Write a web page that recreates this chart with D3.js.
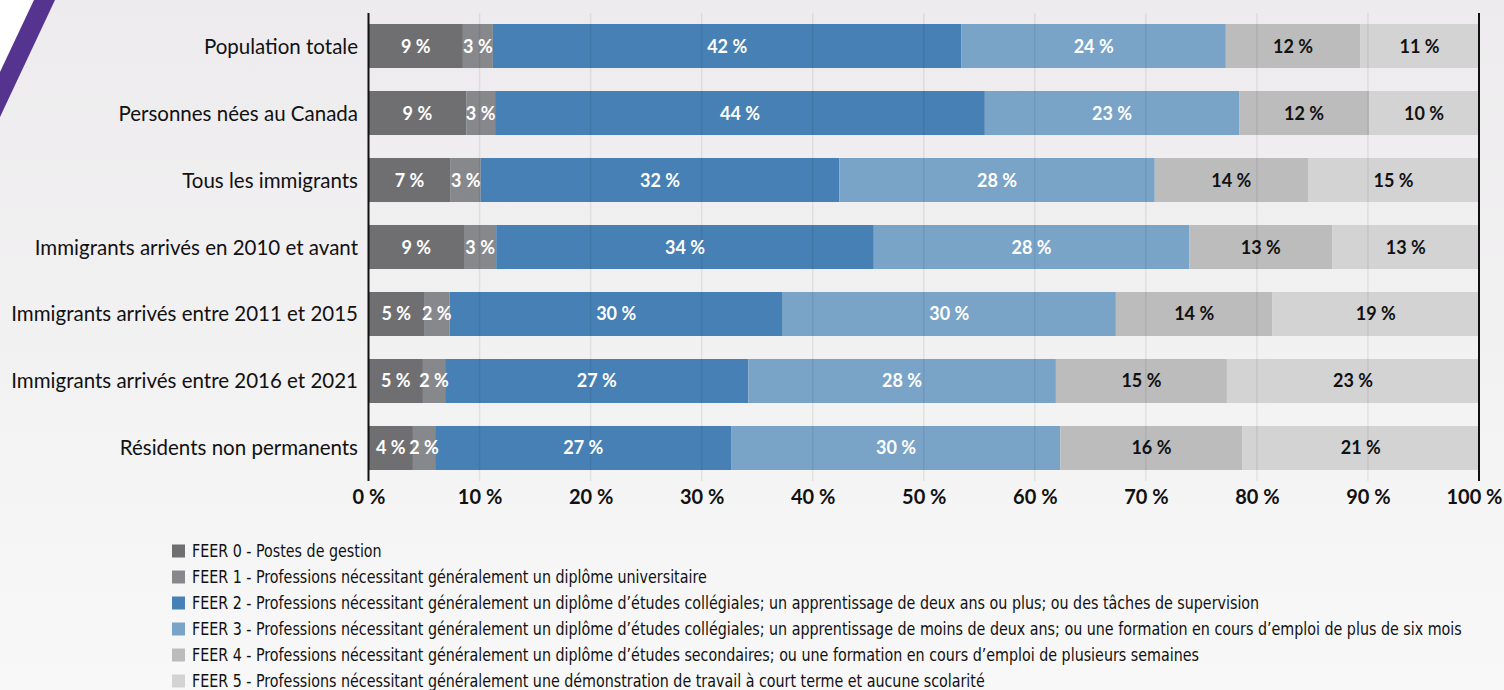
<!DOCTYPE html>
<html lang="fr">
<head>
<meta charset="utf-8">
<script src="https://cdn.jsdelivr.net/npm/d3@7"></script>
<style>
  html, body { margin: 0; padding: 0; background: #f3f2f3; }
  svg { display: block; }
</style>
</head>
<body>
<svg id="chart" width="1504" height="690"></svg>
<script>
// Groupes de population (de haut en bas)
const categories = [
  "Population totale",
  "Personnes nées au Canada",
  "Tous les immigrants",
  "Immigrants arrivés en 2010 et avant",
  "Immigrants arrivés entre 2011 et 2015",
  "Immigrants arrivés entre 2016 et 2021",
  "Résidents non permanents"
];

// Répartition (%) selon la catégorie FEER
const feer0 = [8.5, 8.8, 7.4, 8.6, 5.0, 4.9, 4.0];
const feer1 = [2.7, 2.6, 2.7, 2.9, 2.3, 2.0, 2.0];
const feer2 = [42.2, 44.1, 32.3, 34.0, 30.0, 27.3, 26.7];
const feer3 = [23.8, 22.9, 28.4, 28.4, 30.0, 27.7, 29.6];
const feer4 = [12.1, 11.7, 13.8, 12.9, 14.1, 15.4, 16.4];
const feer5 = [10.7, 9.9, 15.4, 13.2, 18.6, 22.7, 21.3];

const seriesNames = [
  "FEER 0 - Postes de gestion",
  "FEER 1 - Professions nécessitant généralement un diplôme universitaire",
  "FEER 2 - Professions nécessitant généralement un diplôme d’études collégiales; un apprentissage de deux ans ou plus; ou des tâches de supervision",
  "FEER 3 - Professions nécessitant généralement un diplôme d’études collégiales; un apprentissage de moins de deux ans; ou une formation en cours d’emploi de plus de six mois",
  "FEER 4 - Professions nécessitant généralement un diplôme d’études secondaires; ou une formation en cours d’emploi de plusieurs semaines",
  "FEER 5 - Professions nécessitant généralement une démonstration de travail à court terme et aucune scolarité"
];

const tickValues = [0, 10, 20, 30, 40, 50, 60, 70, 80, 90, 100];

const colors = ["#6f6f71", "#87888b", "#4680b4", "#7aa3c8", "#bcbcbc", "#d3d3d3"];
const labelColors = ["#ffffff", "#ffffff", "#ffffff", "#ffffff", "#111111", "#111111"];

const seriesValues = [feer0, feer1, feer2, feer3, feer4, feer5];
const keys = ["f0", "f1", "f2", "f3", "f4", "f5"];
const rows = categories.map((c, i) => {
  const r = { cat: c };
  keys.forEach((k, j) => { r[k] = seriesValues[j][i]; });
  return r;
});

const svg = d3.select("#chart");
const W = 1504, H = 690;

// Fond dégradé
const defs = svg.append("defs");
const grad = defs.append("linearGradient").attr("id", "bg").attr("x1", 0).attr("y1", 0).attr("x2", 0).attr("y2", 1);
grad.append("stop").attr("offset", "0%").attr("stop-color", "#edebed");
grad.append("stop").attr("offset", "100%").attr("stop-color", "#f8f8f8");
svg.append("rect").attr("width", W).attr("height", H).attr("fill", "url(#bg)");

// Bande décorative violette en haut à gauche
svg.append("polygon").attr("points", "0,0 34,0 0,72").attr("fill", "#ffffff");
svg.append("polygon").attr("points", "34,0 55,0 0,117 0,72").attr("fill", "#55348f");

const x = d3.scaleLinear().domain([0, 100]).range([368.5, 1479]);
const y = d3.scaleBand().domain(categories).range([12.5, 481.5]).paddingInner(0.343).paddingOuter(0.1716);

const stacked = d3.stack().keys(keys)(rows);

const layers = svg.append("g").selectAll("g.layer")
  .data(stacked).join("g")
  .attr("class", "layer")
  .attr("fill", (d, i) => colors[i]);

layers.selectAll("rect")
  .data(d => d.map(p => ({ p, cat: p.data.cat })))
  .join("rect")
  .attr("x", d => x(d.p[0]))
  .attr("y", d => y(d.cat))
  .attr("width", d => x(d.p[1]) - x(d.p[0]))
  .attr("height", y.bandwidth());

// Quadrillage vertical (par-dessus les barres, très léger)
svg.append("g").selectAll("line")
  .data(tickValues.slice(1, -1)).join("line")
  .attr("x1", d => x(d)).attr("x2", d => x(d))
  .attr("y1", 13).attr("y2", 481)
  .attr("stroke", "rgba(0,0,0,0.07)")
  .attr("stroke-width", 1.5);

// Étiquettes de valeurs
stacked.forEach((layer, i) => {
  svg.append("g").selectAll("text")
    .data(layer).join("text")
    .attr("x", d => (x(d[0]) + x(d[1])) / 2)
    .attr("y", d => y(d.data.cat) + y.bandwidth() / 2 + 6.5)
    .attr("text-anchor", "middle")
    .attr("font-family", "Lato, 'Open Sans', sans-serif")
    .attr("font-weight", 700)
    .attr("font-size", 18)
    .attr("fill", labelColors[i])
    .text(d => Math.round(d[1] - d[0]) + " %");
});

// Axes verticaux
svg.append("line").attr("x1", x(0)).attr("x2", x(0)).attr("y1", 13).attr("y2", 481)
  .attr("stroke", "#111").attr("stroke-width", 2);
svg.append("line").attr("x1", x(100)).attr("x2", x(100)).attr("y1", 13).attr("y2", 481)
  .attr("stroke", "#111").attr("stroke-width", 2);

// Catégories
svg.append("g").selectAll("text")
  .data(categories).join("text")
  .attr("x", 358)
  .attr("y", d => y(d) + y.bandwidth() / 2 + 7.5)
  .attr("text-anchor", "end")
  .attr("font-family", "Lato, 'Open Sans', sans-serif")
  .attr("font-size", 20.5)
  .attr("fill", "#111")
  .text(d => d);

// Axe des x
const xAxis = d3.axisBottom(x).tickValues(tickValues).tickSize(0).tickFormat(d => d + " %");
const ax = svg.append("g").attr("transform", "translate(0,489)").call(xAxis);
ax.select(".domain").remove();
ax.selectAll("text")
  .attr("dy", 0).attr("y", 15)
  .attr("font-family", "Lato, 'Open Sans', sans-serif")
  .attr("font-weight", 700)
  .attr("font-size", 20)
  .attr("fill", "#111");
// Dernière graduation : tenue dans le cadre
ax.selectAll(".tick").filter(d => d === 100).select("text")
  .attr("text-anchor", "end").attr("x", 23);

// Légende
const legend = svg.append("g").attr("transform", "translate(172,0)");
const lg = legend.selectAll("g").data(seriesNames).join("g")
  .attr("transform", (d, i) => `translate(0,${551 + i * 26})`);
lg.append("rect").attr("x", 0).attr("y", -6.5).attr("width", 13).attr("height", 13)
  .attr("fill", (d, i) => colors[i]);
const legendText = lg.append("g").attr("transform", "translate(20,0)")
  .append("text").attr("x", 0).attr("y", 6)
  .attr("font-family", "'Liberation Sans Narrow', 'DejaVu Sans Condensed', sans-serif")
  .attr("font-size", 17)
  .attr("fill", "#111")
  .text(d => d);

// Resserrement horizontal pour que la plus longue ligne tienne jusqu'à x ≈ 1463
const longest = d3.max(legendText.nodes(), n => n.getComputedTextLength());
const sx = Math.min(1, (1463 - 192) / longest);
lg.selectAll("g").attr("transform", `translate(20,0) scale(${sx},1)`);
</script>
</body>
</html>
